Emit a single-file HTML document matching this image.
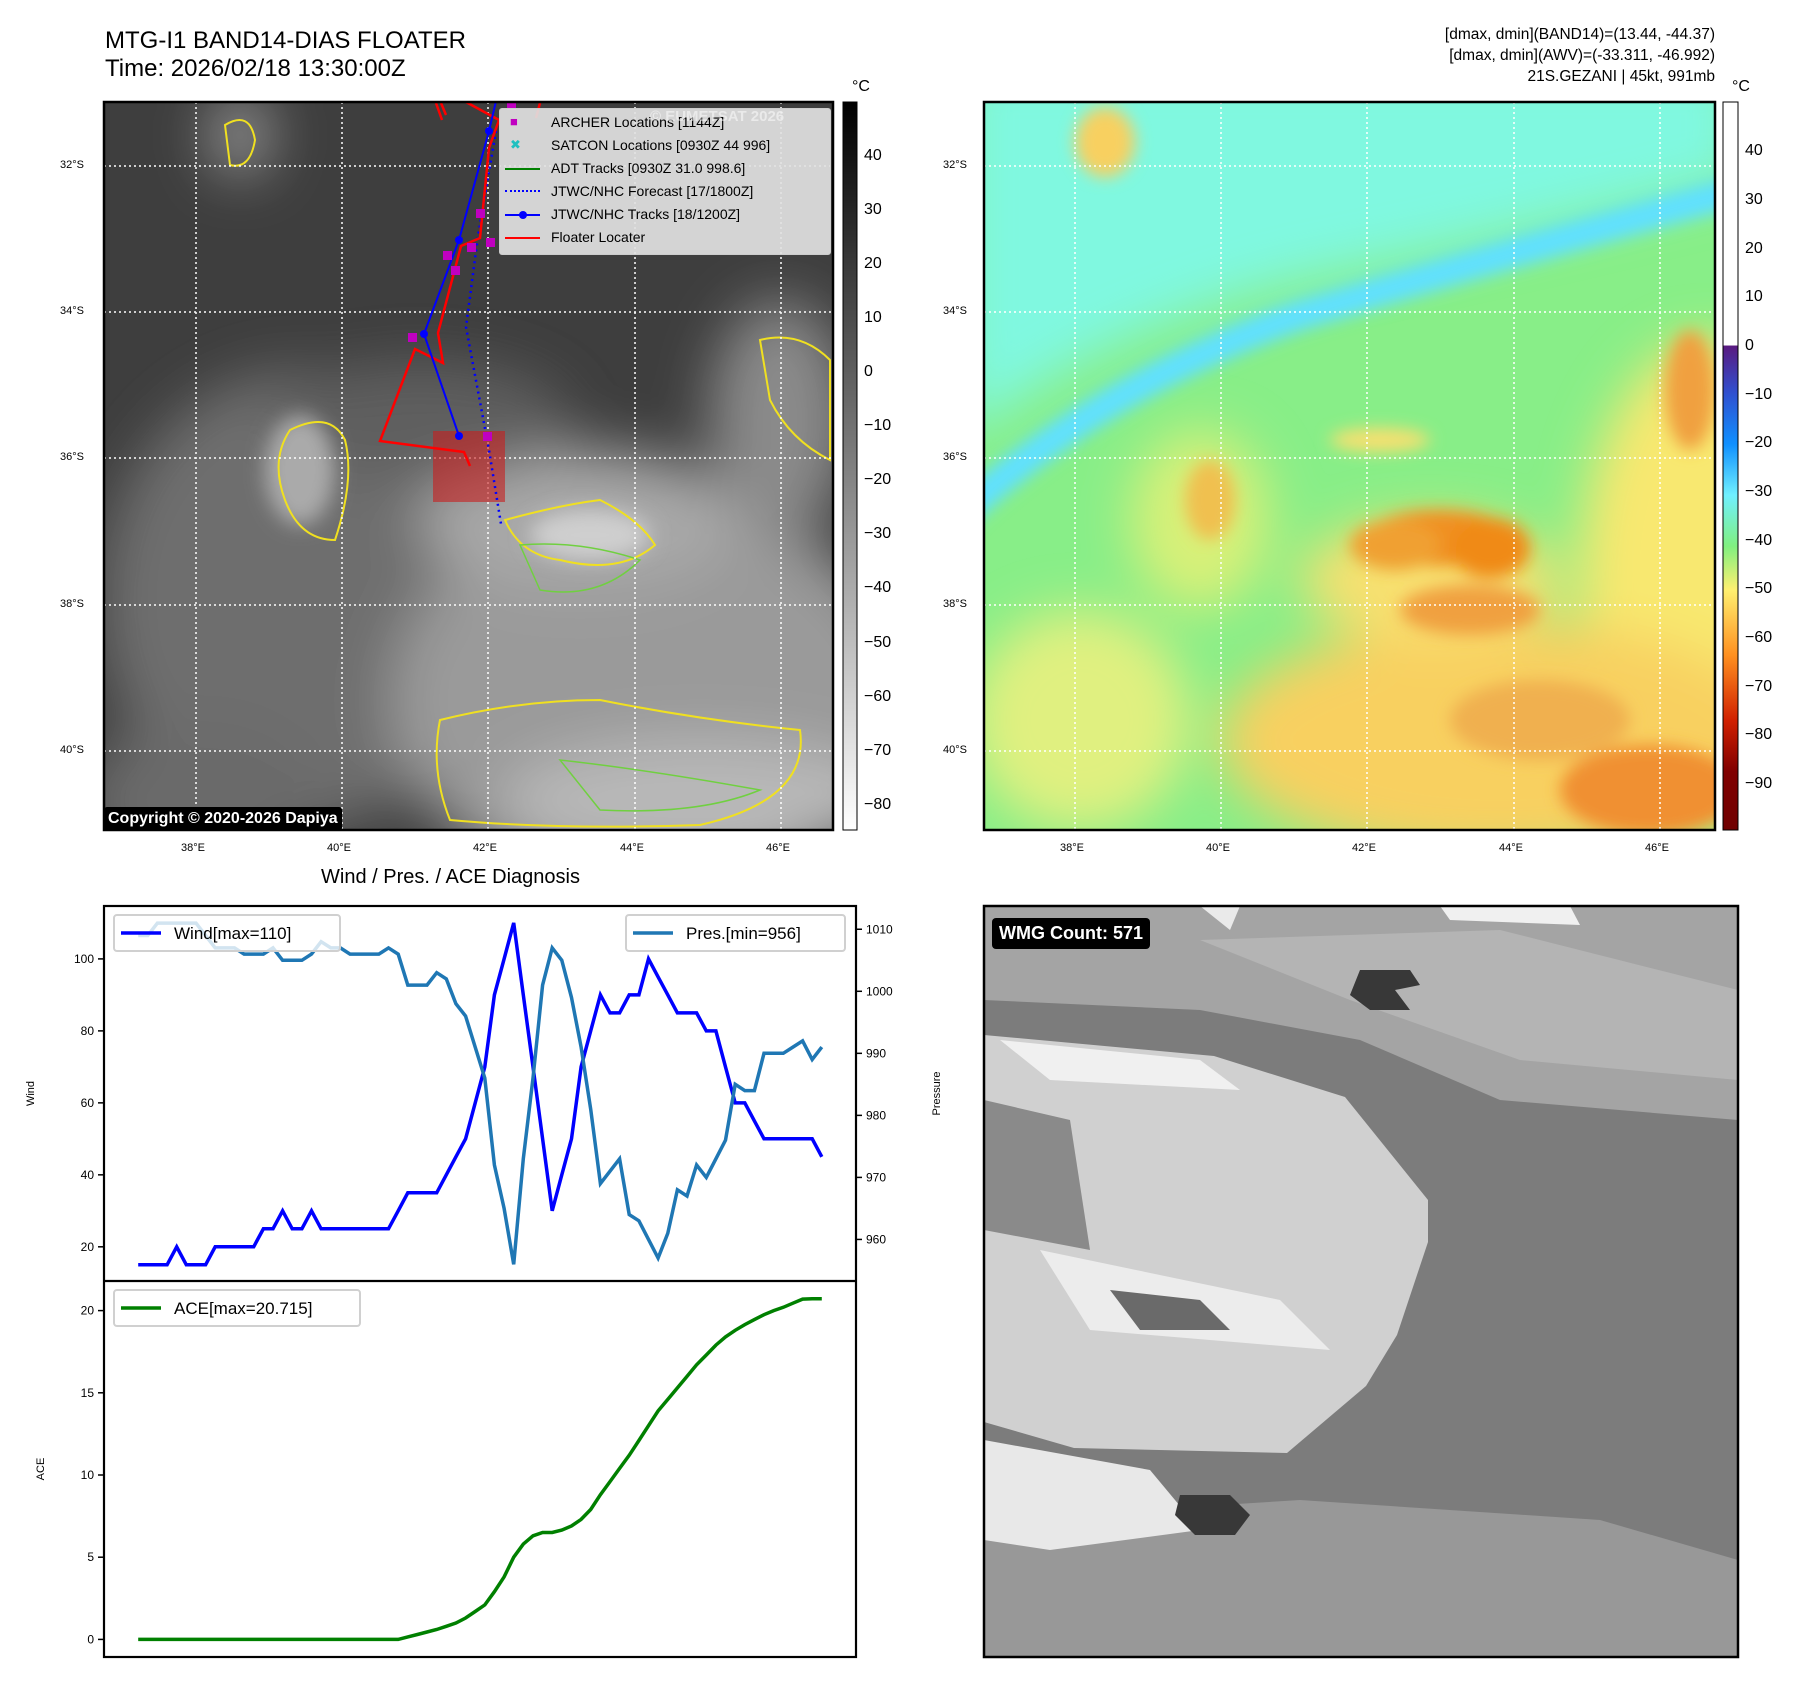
<!DOCTYPE html>
<html><head><meta charset="utf-8">
<style>
html,body{margin:0;padding:0;background:#fff;}
body{width:1797px;height:1690px;position:relative;overflow:hidden;font-family:"Liberation Sans","DejaVu Sans",sans-serif;}
.abs{position:absolute;}
.t{position:absolute;white-space:nowrap;color:#000;}
</style></head><body>

<div class="t" style="left:105px;top:27px;font-size:24px;line-height:28px;">MTG-I1 BAND14-DIAS FLOATER<br>Time: 2026/02/18 13:30:00Z</div>
<div class="t" style="right:82px;top:24px;font-size:15.5px;line-height:21px;text-align:right;">[dmax, dmin](BAND14)=(13.44, -44.37)<br>[dmax, dmin](AWV)=(-33.311, -46.992)<br>21S.GEZANI | 45kt, 991mb</div>

<!-- LEFT MAP -->
<svg class="abs" style="left:0;top:0" width="980" height="880">
<defs>
<filter id="bl" x="-50%" y="-50%" width="200%" height="200%"><feGaussianBlur stdDeviation="28"/></filter>
<filter id="bl2" x="-50%" y="-50%" width="200%" height="200%"><feGaussianBlur stdDeviation="10"/></filter>
<clipPath id="cl"><rect x="104" y="102" width="729" height="728"/></clipPath>
<linearGradient id="cbg" x1="0" y1="0" x2="0" y2="1"><stop offset="0" stop-color="#000"/><stop offset="1" stop-color="#fff"/></linearGradient>
</defs>
<g clip-path="url(#cl)">
<rect x="104" y="102" width="729" height="728" fill="#3e3e3e"/>
<g filter="url(#bl)">
<ellipse cx="300" cy="600" rx="200" ry="230" fill="#6e6e6e"/>
<ellipse cx="650" cy="700" rx="260" ry="200" fill="#9a9a9a"/>
<ellipse cx="580" cy="520" rx="160" ry="70" fill="#a8a8a8"/>
<ellipse cx="420" cy="420" rx="150" ry="60" fill="#5e5e5e"/>
<ellipse cx="780" cy="420" rx="70" ry="120" fill="#8a8a8a"/>
<ellipse cx="200" cy="800" rx="120" ry="80" fill="#6a6a6a"/>
<ellipse cx="240" cy="135" rx="30" ry="40" fill="#999"/>
<ellipse cx="700" cy="800" rx="200" ry="60" fill="#b8b8b8"/>
</g>
<g filter="url(#bl2)">
<ellipse cx="300" cy="470" rx="35" ry="55" fill="#aaa"/>
<ellipse cx="590" cy="535" rx="60" ry="25" fill="#cfcfcf"/>
</g>
<g fill="none" stroke="#f0e020" stroke-width="2">
<path d="M505 520 Q560 505 600 500 Q640 520 655 545 Q620 575 560 560 Q520 555 505 520Z"/>
<path d="M290 430 Q330 410 345 440 Q355 480 335 540 Q300 540 285 500 Q270 460 290 430Z"/>
<path d="M440 720 Q520 700 600 700 Q700 720 800 730 Q810 800 700 825 Q560 830 450 820 Q430 770 440 720Z"/>
<path d="M760 340 Q800 330 830 360 L830 460 Q790 440 770 400Z"/>
<path d="M225 125 Q250 110 255 140 Q250 170 230 165Z"/>
</g>
<g fill="none" stroke="#70d040" stroke-width="1.5">
<path d="M520 545 Q580 540 640 560 Q600 600 540 590Z"/>
<path d="M560 760 Q650 770 760 790 Q700 815 600 810Z"/>
</g>
<g stroke="#fff" stroke-width="1.5" stroke-dasharray="2,3">
<line x1="196" y1="102" x2="196" y2="830"/><line x1="342" y1="102" x2="342" y2="830"/><line x1="488" y1="102" x2="488" y2="830"/><line x1="635" y1="102" x2="635" y2="830"/><line x1="781" y1="102" x2="781" y2="830"/>
<line x1="104" y1="166" x2="833" y2="166"/><line x1="104" y1="312" x2="833" y2="312"/><line x1="104" y1="458" x2="833" y2="458"/><line x1="104" y1="605" x2="833" y2="605"/><line x1="104" y1="751" x2="833" y2="751"/>
</g>
<rect x="433" y="431" width="72" height="71" fill="rgba(200,30,30,0.6)"/>
<polyline points="496,131 478,236 466,327 489,450 501,524" fill="none" stroke="#0000ff" stroke-width="2.5" stroke-dasharray="2,4"/>
<polyline points="466,102 499,120 489,148 480,238 461,246 438,333 443,363 415,349 380,441 464,452 470,466" fill="none" stroke="#ff0000" stroke-width="2.5"/>
<path d="M436 103 L442 120 M441 103 L446 115 M540 103 L536 118" stroke="#ff0000" stroke-width="2.5"/>
<polyline points="496,101 489,131 459,240 424,334 459,436" fill="none" stroke="#0000ff" stroke-width="2"/>
<g fill="#0000ff"><circle cx="489" cy="131" r="4"/><circle cx="459" cy="240" r="4"/><circle cx="424" cy="334" r="4"/><circle cx="459" cy="436" r="4"/></g>
<g fill="#c000c0"><rect x="507" y="101" width="9" height="9"/><rect x="476" y="209" width="9" height="9"/><rect x="486" y="238" width="9" height="9"/><rect x="467" y="243" width="9" height="9"/><rect x="443" y="251" width="9" height="9"/><rect x="451" y="266" width="9" height="9"/><rect x="408" y="333" width="9" height="9"/><rect x="483" y="432" width="9" height="9"/></g>
</g>
<rect x="104" y="102" width="729" height="728" fill="none" stroke="#000" stroke-width="2.5"/>
<rect x="843" y="102" width="14" height="728" fill="url(#cbg)" stroke="#000" stroke-width="1"/>
</svg>

<div class="abs" style="left:499px;top:108px;width:330px;height:145px;background:rgba(225,225,225,0.92);border:1px solid #ccc;border-radius:3px;font-size:14px;">
<div class="t" style="left:10px;top:5px;color:#c000c0;font-size:13px;">■</div><div class="t" style="left:51px;top:5px;">ARCHER Locations [1144Z]</div>
<div class="t" style="left:10px;top:28px;color:#20c0c0;font-size:13px;">✖</div><div class="t" style="left:51px;top:28px;">SATCON Locations [0930Z 44 996]</div>
<div class="abs" style="left:5px;top:59px;width:35px;height:2px;background:#008000"></div><div class="t" style="left:51px;top:51px;">ADT Tracks [0930Z 31.0 998.6]</div>
<div class="abs" style="left:5px;top:81px;width:35px;border-top:2px dotted #0000ff"></div><div class="t" style="left:51px;top:74px;">JTWC/NHC Forecast [17/1800Z]</div>
<div class="abs" style="left:5px;top:105px;width:35px;height:2px;background:#0000ff"></div><div class="abs" style="left:19px;top:102px;width:8px;height:8px;border-radius:50%;background:#0000ff"></div><div class="t" style="left:51px;top:97px;">JTWC/NHC Tracks [18/1200Z]</div>
<div class="abs" style="left:5px;top:128px;width:35px;height:2px;background:#ff0000"></div><div class="t" style="left:51px;top:120px;">Floater Locater</div>
</div>
<div class="t" style="left:650px;top:108px;font-size:15px;font-weight:bold;color:rgba(255,255,255,0.5);">© EUMETSAT 2026</div>
<div class="t" style="left:104px;top:807px;height:24px;line-height:24px;padding:0 4px;background:#000;color:#fff;font-weight:bold;font-size:16px;border-radius:3px;">Copyright © 2020-2026 Dapiya</div>

<div>
<div class="t" style="left:60px;top:159px;font-size:11px;">32°S</div><div class="t" style="left:60px;top:305px;font-size:11px;">34°S</div><div class="t" style="left:60px;top:451px;font-size:11px;">36°S</div><div class="t" style="left:60px;top:598px;font-size:11px;">38°S</div><div class="t" style="left:60px;top:744px;font-size:11px;">40°S</div>
</div>
<div>
<div class="t" style="left:181px;top:842px;font-size:11px;">38°E</div><div class="t" style="left:327px;top:842px;font-size:11px;">40°E</div><div class="t" style="left:473px;top:842px;font-size:11px;">42°E</div><div class="t" style="left:620px;top:842px;font-size:11px;">44°E</div><div class="t" style="left:766px;top:842px;font-size:11px;">46°E</div>
</div>
<div style="font-size:16px;">
<div class="t" style="left:852px;top:78px;font-size:16px;">°C</div>
<div class="t" style="left:864px;top:147px;font-size:16px;">40</div><div class="t" style="left:864px;top:201px;font-size:16px;">30</div><div class="t" style="left:864px;top:255px;font-size:16px;">20</div><div class="t" style="left:864px;top:309px;font-size:16px;">10</div><div class="t" style="left:864px;top:363px;font-size:16px;">0</div><div class="t" style="left:864px;top:417px;font-size:16px;">−10</div><div class="t" style="left:864px;top:471px;font-size:16px;">−20</div><div class="t" style="left:864px;top:525px;font-size:16px;">−30</div><div class="t" style="left:864px;top:579px;font-size:16px;">−40</div><div class="t" style="left:864px;top:634px;font-size:16px;">−50</div><div class="t" style="left:864px;top:688px;font-size:16px;">−60</div><div class="t" style="left:864px;top:742px;font-size:16px;">−70</div><div class="t" style="left:864px;top:796px;font-size:16px;">−80</div>
</div>

<!-- RIGHT MAP -->
<svg class="abs" style="left:0;top:0" width="1797" height="880">
<defs>
<filter id="rb" x="-50%" y="-50%" width="200%" height="200%"><feGaussianBlur stdDeviation="25"/></filter>
<filter id="rb2" x="-50%" y="-50%" width="200%" height="200%"><feGaussianBlur stdDeviation="8"/></filter>
<clipPath id="cr"><rect x="984" y="102" width="731" height="728"/></clipPath>
<linearGradient id="cbr" x1="0" y1="0" x2="0" y2="1">
<stop offset="0" stop-color="#fff"/><stop offset="0.334" stop-color="#fff"/><stop offset="0.335" stop-color="#5a1a80"/><stop offset="0.40" stop-color="#3050d0"/><stop offset="0.47" stop-color="#1090ff"/><stop offset="0.54" stop-color="#70f0ff"/><stop offset="0.61" stop-color="#80f080"/><stop offset="0.67" stop-color="#fff070"/><stop offset="0.76" stop-color="#ff9020"/><stop offset="0.85" stop-color="#d02000"/><stop offset="0.92" stop-color="#800000"/><stop offset="1" stop-color="#700000"/></linearGradient>
</defs>
<g clip-path="url(#cr)">
<rect x="984" y="102" width="731" height="728" fill="#88ee88"/>
<g filter="url(#rb)">
<path d="M960 60 L1740 60 L1740 180 Q1500 240 1300 280 Q1100 330 960 440Z" fill="#80f8e0"/>
<ellipse cx="1710" cy="580" rx="130" ry="240" fill="#f8e870"/>
<ellipse cx="1500" cy="740" rx="280" ry="120" fill="#f8d060"/>
<ellipse cx="1080" cy="720" rx="110" ry="110" fill="#e0f080"/>
<ellipse cx="1430" cy="580" rx="130" ry="60" fill="#f8e070"/>
<ellipse cx="1200" cy="520" rx="70" ry="90" fill="#d8f078"/>
</g>
<path d="M960 515 Q1100 385 1300 315 Q1500 255 1740 190" fill="none" stroke="#60e0ff" stroke-width="30" filter="url(#rb2)"/>
<g filter="url(#rb2)">
<ellipse cx="1105" cy="142" rx="30" ry="35" fill="#f8d060"/>
<ellipse cx="1440" cy="538" rx="75" ry="28" fill="#f09020"/>
<ellipse cx="1395" cy="545" rx="45" ry="25" fill="#f0a030"/>
<ellipse cx="1490" cy="548" rx="40" ry="30" fill="#f08a18"/>
<ellipse cx="1470" cy="610" rx="70" ry="25" fill="#f0a040"/>
<ellipse cx="1690" cy="390" rx="25" ry="60" fill="#f0a040"/>
<ellipse cx="1650" cy="790" rx="90" ry="45" fill="#f09030"/>
<ellipse cx="1540" cy="720" rx="90" ry="40" fill="#f0b050"/>
<ellipse cx="1210" cy="500" rx="25" ry="40" fill="#f0c050"/>
<ellipse cx="1380" cy="440" rx="50" ry="12" fill="#f8e070"/>
</g>
<g stroke="#fff" stroke-width="1.5" stroke-dasharray="2,3">
<line x1="1075" y1="102" x2="1075" y2="830"/><line x1="1221" y1="102" x2="1221" y2="830"/><line x1="1367" y1="102" x2="1367" y2="830"/><line x1="1514" y1="102" x2="1514" y2="830"/><line x1="1660" y1="102" x2="1660" y2="830"/>
<line x1="984" y1="166" x2="1715" y2="166"/><line x1="984" y1="312" x2="1715" y2="312"/><line x1="984" y1="458" x2="1715" y2="458"/><line x1="984" y1="605" x2="1715" y2="605"/><line x1="984" y1="751" x2="1715" y2="751"/>
</g>
</g>
<rect x="984" y="102" width="731" height="728" fill="none" stroke="#000" stroke-width="2.5"/>
<rect x="1723" y="102" width="15" height="728" fill="url(#cbr)" stroke="#000" stroke-width="1"/>
</svg>
<div>
<div class="t" style="left:943px;top:159px;font-size:11px;">32°S</div><div class="t" style="left:943px;top:305px;font-size:11px;">34°S</div><div class="t" style="left:943px;top:451px;font-size:11px;">36°S</div><div class="t" style="left:943px;top:598px;font-size:11px;">38°S</div><div class="t" style="left:943px;top:744px;font-size:11px;">40°S</div>
</div>
<div>
<div class="t" style="left:1060px;top:842px;font-size:11px;">38°E</div><div class="t" style="left:1206px;top:842px;font-size:11px;">40°E</div><div class="t" style="left:1352px;top:842px;font-size:11px;">42°E</div><div class="t" style="left:1499px;top:842px;font-size:11px;">44°E</div><div class="t" style="left:1645px;top:842px;font-size:11px;">46°E</div>
</div>
<div>
<div class="t" style="left:1732px;top:78px;font-size:16px;">°C</div>
<div class="t" style="left:1745px;top:142px;font-size:16px;">40</div><div class="t" style="left:1745px;top:191px;font-size:16px;">30</div><div class="t" style="left:1745px;top:240px;font-size:16px;">20</div><div class="t" style="left:1745px;top:288px;font-size:16px;">10</div><div class="t" style="left:1745px;top:337px;font-size:16px;">0</div><div class="t" style="left:1745px;top:386px;font-size:16px;">−10</div><div class="t" style="left:1745px;top:434px;font-size:16px;">−20</div><div class="t" style="left:1745px;top:483px;font-size:16px;">−30</div><div class="t" style="left:1745px;top:532px;font-size:16px;">−40</div><div class="t" style="left:1745px;top:580px;font-size:16px;">−50</div><div class="t" style="left:1745px;top:629px;font-size:16px;">−60</div><div class="t" style="left:1745px;top:678px;font-size:16px;">−70</div><div class="t" style="left:1745px;top:726px;font-size:16px;">−80</div><div class="t" style="left:1745px;top:775px;font-size:16px;">−90</div>
</div>

<!-- BOTTOM RIGHT WMG -->
<svg class="abs" style="left:0;top:0" width="1797" height="1690">
<defs><clipPath id="cw"><rect x="984" y="906" width="754" height="751"/></clipPath></defs>
<g clip-path="url(#cw)">
<rect x="984" y="906" width="754" height="751" fill="#7c7c7c"/>
<polygon points="984,906 1738,906 1738,1120 1500,1100 1360,1040 1200,1010 984,1000" fill="#a4a4a4"/>
<polygon points="1200,940 1500,930 1738,990 1738,1080 1520,1060 1350,1000" fill="#b4b4b4"/>
<polygon points="984,1520 1300,1500 1600,1520 1738,1560 1738,1657 984,1657" fill="#989898"/>
<polygon points="984,1035 1214,1056 1345,1097 1428,1200 1428,1242 1397,1335 1366,1386 1287,1453 1074,1448 984,1422" fill="#d0d0d0"/>
<polygon points="1000,1040 1200,1060 1240,1090 1050,1080" fill="#f0f0f0"/>
<polygon points="1040,1250 1280,1300 1330,1350 1090,1330" fill="#ececec"/>
<polygon points="984,1440 1150,1470 1200,1530 1050,1550 984,1540" fill="#e8e8e8"/>
<polygon points="1110,1290 1200,1300 1230,1330 1140,1330" fill="#6a6a6a"/>
<polygon points="984,1100 1070,1120 1090,1250 984,1230" fill="#8a8a8a"/>
<polygon points="1360,970 1410,970 1420,985 1395,990 1410,1010 1370,1010 1350,995" fill="#383838"/>
<polygon points="1180,1495 1230,1495 1250,1515 1235,1535 1195,1535 1175,1515" fill="#383838"/>
<polygon points="1440,906 1570,906 1580,925 1450,920" fill="#f0f0f0"/>
<polygon points="1200,906 1240,906 1230,930" fill="#eaeaea"/>
</g>
<rect x="984" y="906" width="754" height="751" fill="none" stroke="#000" stroke-width="2.5"/>
</svg>
<div class="t" style="left:992px;top:918px;height:31px;line-height:31px;padding:0 7px;background:#000;color:#fff;font-weight:bold;font-size:18px;border-radius:4px;">WMG Count: 571</div>

<!-- BOTTOM LEFT CHART -->
<div class="t" style="left:321px;top:866px;font-size:20px;">Wind / Pres. / ACE Diagnosis</div>
<svg id="diag" class="abs" style="left:0;top:880px" width="980" height="810"></svg>

<script>
const windVals=[15,15,15,15,20,15,15,15,20,20,20,20,20,25,25,30,25,25,30,25,25,25,25,25,25,25,25,30,35,35,35,35,40,45,50,60,70,90,100,110,90,70,50,30,40,50,70,80,90,85,85,90,90,100,95,90,85,85,85,80,80,70,60,60,55,50,50,50,50,50,50,45];
const presVals=[1009,1009,1011,1011,1011,1011,1011,1009,1007,1007,1007,1006,1006,1006,1007,1005,1005,1005,1006,1008,1007,1007,1006,1006,1006,1006,1007,1006,1001,1001,1001,1003,1002,998,996,991,986,972,965,956,973,986,1001,1007,1005,999,991,981,969,971,973,964,963,960,957,961,968,967,972,970,973,976,985,984,984,990,990,990,991,992,989,991];
const aceVals=[0,0,0,0,0,0,0,0,0,0,0,0,0,0,0,0,0,0,0,0,0,0,0,0,0,0,0,0,0.15,0.3,0.45,0.6,0.8,1.0,1.3,1.7,2.1,2.9,3.8,5.0,5.8,6.3,6.5,6.5,6.65,6.9,7.3,7.9,8.8,9.6,10.4,11.2,12.1,13.0,13.9,14.6,15.3,16.0,16.7,17.3,17.9,18.4,18.8,19.15,19.45,19.75,20.0,20.2,20.45,20.7,20.715,20.715];
const windTicks=[20,40,60,80,100];
const presTicks=[960,970,980,990,1000,1010];
const aceTicks=[0,5,10,15,20];

const NS='http://www.w3.org/2000/svg';
const svg=document.getElementById('diag');
const L=104,R=856,T1=26,B1=401,T2=401,B2=777;
const n=windVals.length;
const xs=i=>L+(i+3.55)/(n-1+7.1)*(R-L);
const yW=v=>T1+(114.7-v)/(114.7-10.5)*(B1-T1);
const yP=v=>T1+(1013.75-v)/(1013.75-953.3)*(B1-T1);
const yA=v=>T2+(21.8-v)/(21.8+1.07)*(B2-T2);
function mk(tag,attrs){const e=document.createElementNS(NS,tag);for(const k in attrs)e.setAttribute(k,attrs[k]);svg.appendChild(e);return e;}
function line(vals,yf,color,w,name){
  const p=mk('polyline',{points:vals.map((v,i)=>xs(i).toFixed(1)+','+yf(v).toFixed(1)).join(' '),fill:'none',stroke:color,'stroke-width':w,'stroke-linejoin':'miter'});
  
  
}
line(windVals,yW,'#0000ff',3.5,'wind-line');
line(presVals,yP,'#1f77b4',3.5,'pressure-line');
line(aceVals,yA,'#008000',3.5,'ace-line');
mk('rect',{x:L,y:T1,width:R-L,height:B2-T1,fill:'none',stroke:'#000','stroke-width':2.2});
mk('line',{x1:L,y1:B1,x2:R,y2:B1,stroke:'#000','stroke-width':2.2});
function tick(x1,y,x2,lx,txt,anchor,name){
  mk('line',{x1:x1,y1:y,x2:x2,y2:y,stroke:'#000','stroke-width':1.5});
  const t=mk('text',{x:lx,y:y+4,'font-size':12,'text-anchor':anchor,'font-family':'Liberation Sans, sans-serif'});
  t.textContent=txt;
  
  
}
windTicks.forEach(v=>tick(L-6,yW(v),L,L-10,String(v),'end','wind-tick-label'));
presTicks.forEach(v=>tick(R,yP(v),R+6,R+10,String(v),'start','pressure-tick-label'));
aceTicks.forEach(v=>tick(L-6,yA(v),L,L-10,String(v),'end','ace-tick-label'));
function ylab(x,y,txt,name){const t=mk('text',{x:x,y:y,'font-size':11,'text-anchor':'middle',transform:'rotate(-90 '+x+' '+y+')','font-family':'Liberation Sans, sans-serif'});t.textContent=txt;

}
ylab(34,(T1+B1)/2,'Wind','wind-axis-title');
ylab(940,(T1+B1)/2,'Pressure','pressure-axis-title');
ylab(44,(T2+B2)/2,'ACE','ace-axis-title');
function legend(x,y,w,color,txt,name){
  const g=mk('rect',{x:x,y:y,width:w,height:36,rx:3,fill:'rgba(255,255,255,0.8)',stroke:'#d0d0d0','stroke-width':2});
  
  
  mk('line',{x1:x+7,y1:y+18,x2:x+47,y2:y+18,stroke:color,'stroke-width':3.5});
  const t=mk('text',{x:x+60,y:y+24,'font-size':17,'font-family':'Liberation Sans, sans-serif'});t.textContent=txt;
}
legend(114,35,226,'#0000ff','Wind[max=110]','wind-legend');
legend(626,35,219,'#1f77b4','Pres.[min=956]','pressure-legend');
legend(114,410,246,'#008000','ACE[max=20.715]','ace-legend');
</script>
</body></html>
